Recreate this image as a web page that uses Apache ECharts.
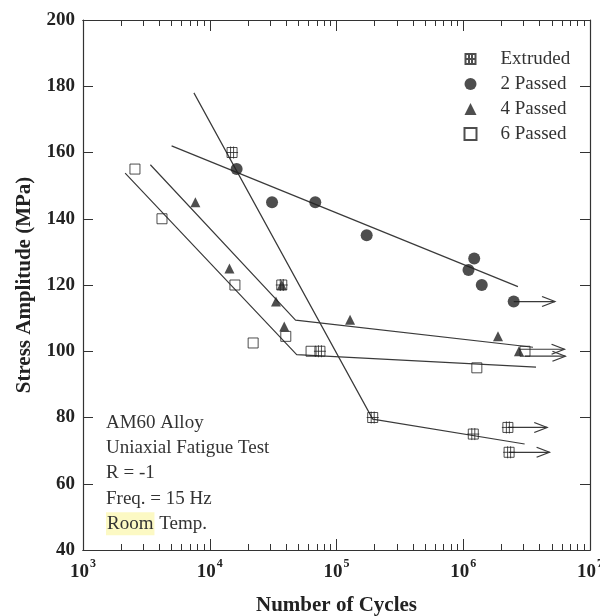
<!DOCTYPE html>
<html><head><meta charset="utf-8">
<script src="https://cdn.jsdelivr.net/npm/echarts@6/dist/echarts.min.js"></script>
<style>html,body{margin:0;padding:0;background:#fff}#c{width:600px;height:616px}</style>
</head><body><div id="c"></div>
<script>
// ---- data ----
const extrudedX = [1.5e4, 3.7e4, 7.4e4, 1.93e5, 1.2e6];
const extrudedY = [160, 120, 100, 80, 75];
const passed2X = [1.63e4, 3.1e4, 6.8e4, 1.73e5, 1.1e6, 1.22e6, 1.4e6];
const passed2Y = [155, 145, 145, 135, 124.5, 128, 120];
const passed4X = [7.7e3, 1.43e4, 3.33e4, 3.7e4, 3.87e4, 1.28e5, 1.88e6];
const passed4Y = [145, 125, 115, 120, 107.5, 109.5, 104.5];
const passed6X = [2.57e3, 4.2e3, 1.58e4, 2.2e4, 3.98e4, 6.3e4, 1.28e6];
const passed6Y = [155, 140, 120, 102.5, 104.5, 100, 95];

// run-outs (marker position, arrow level, arrow tip)
const extrudedRunX = [2.25e6, 2.3e6], extrudedRunY = [77, 69.5], extrudedRunArrowY = [77, 69.5], extrudedRunEnd = [4.6e6, 4.8e6];
const passed2RunX = [2.5e6], passed2RunY = [115], passed2RunArrowY = [115], passed2RunEnd = [5.3e6];
const passed4RunX = [2.75e6], passed4RunY = [100], passed4RunArrowY = [100.6], passed4RunEnd = [6.3e6];
const passed6RunX = [3.07e6], passed6RunY = [100], passed6RunArrowY = [98.5], passed6RunEnd = [6.4e6];

// fitted lines
const extrudedFitX = [7.5e3, 1.93e5, 3.05e6], extrudedFitY = [178, 79.5, 72];
const passed2FitX = [5.0e3, 2.7e6], passed2FitY = [162, 119.5];
const passed4FitX = [3.4e3, 4.75e4, 3.55e6], passed4FitY = [156.3, 109.4, 101.2];
const passed6FitX = [2.15e3, 4.85e4, 3.75e6], passed6FitY = [153.8, 99, 95.2];

const seriesNames = ['Extruded', '2 Passed', '4 Passed', '6 Passed'];
const xMajor = [1e3, 1e4, 1e5, 1e6, 1e7];
const xMinor = [];
[1e3, 1e4, 1e5, 1e6].forEach(d => { for (let k = 2; k <= 9; k++) xMinor.push(d * k); });
const noteLines = ['AM60 Alloy', 'Uniaxial Fatigue Test', 'R = -1', 'Freq. = 15 Hz'];
const noteLast = ['Room', ' Temp.'];

// ---- styles ----
const FONT = '"Liberation Serif", "Times New Roman", serif';
const INK = '#222';
const LINE = '#3a3a3a';
const crossSq = 'path://M1,1H11V11H1Z M4.5,0V12 M7.5,0V12 M0,6H12';
const openSq = 'path://M0,0H10V10H0Z';
const arrowPath = 'path://M0,0L12,5L0,10';

const zip = (xs, ys) => xs.map((x, i) => [x, ys[i]]);

function scatter(name, xs, ys, symbol, size, filled) {
  return {
    name, type: 'scatter', symbol, symbolSize: size,
    data: zip(xs, ys),
    itemStyle: filled ? { color: INK } : { color: 'none', borderColor: INK, borderWidth: 1 },
    silent: true, z: 5
  };
}
function fit(xs, ys) {
  return { type: 'line', data: zip(xs, ys), symbol: 'none', lineStyle: { color: LINE, width: 1.2 }, silent: true, z: 3 };
}
function runouts(xs, ay, ends) {
  return xs.map((x, i) => ({
    type: 'line', silent: true, z: 3, showSymbol: true, symbol: 'none',
    lineStyle: { color: LINE, width: 1.2 },
    itemStyle: { color: 'none', borderColor: LINE, borderWidth: 1.2 },
    data: [[x, ay[i]], { value: [ends[i], ay[i]], symbol: arrowPath, symbolSize: [13, 10], symbolOffset: ['-50%', 0] }]
  }));
}

const baseX = { type: 'log', logBase: 10, min: 1e3, max: 1e7, splitLine: { show: false },
  axisLine: { show: true, onZero: false, lineStyle: { color: '#333', width: 1.2 } } };
const baseY = { type: 'value', min: 40, max: 200, interval: 20, splitLine: { show: false },
  axisLine: { show: true, onZero: false, lineStyle: { color: '#333', width: 1.2 } } };

const option = {
  animation: false,
  backgroundColor: '#fff',
  grid: { left: 83, right: 10, top: 20, bottom: 66, containLabel: false, outerBoundsMode: 'none' },
  legend: {
    data: seriesNames, orient: 'vertical', left: 462, top: 49, padding: 0,
    itemWidth: 12, itemHeight: 12, itemGap: 5,
    textStyle: { fontFamily: FONT, fontSize: 19, color: '#333', lineHeight: 20, padding: [0, 0, 0, 19] },
    selectedMode: false
  },
  xAxis: [
    Object.assign({}, baseX, {
      position: 'bottom', name: 'Number of Cycles', nameLocation: 'middle', nameGap: 45,
      nameTextStyle: { fontFamily: FONT, fontSize: 21, fontWeight: 'bold', color: INK },
      axisTick: { show: true, inside: true, length: 11, customValues: xMajor, lineStyle: { color: '#333' } },
      axisLabel: {
        customValues: xMajor, margin: 8, color: INK, hideOverlap: false,
        formatter: v => '{b|10}{s|' + Math.round(Math.log10(v)) + '}',
        rich: {
          b: { fontFamily: FONT, fontSize: 19, fontWeight: 'bold', color: INK, lineHeight: 24, verticalAlign: 'bottom' },
          s: { fontFamily: FONT, fontSize: 12, fontWeight: 'bold', color: INK, lineHeight: 12, verticalAlign: 'top', padding: [0, 0, 0, 1] }
        }
      }
    }),
    Object.assign({}, baseX, { position: 'top',
      axisTick: { show: true, inside: true, length: 11, customValues: xMajor, lineStyle: { color: '#333' } },
      axisLabel: { show: false } }),
    Object.assign({}, baseX, { position: 'bottom',
      axisTick: { show: true, inside: true, length: 6, customValues: xMinor, lineStyle: { color: '#333' } },
      axisLabel: { show: false, customValues: xMinor } }),
    Object.assign({}, baseX, { position: 'top',
      axisTick: { show: true, inside: true, length: 6, customValues: xMinor, lineStyle: { color: '#333' } },
      axisLabel: { show: false, customValues: xMinor } })
  ],
  yAxis: [
    Object.assign({}, baseY, {
      position: 'left', name: 'Stress Amplitude (MPa)', nameLocation: 'middle', nameGap: 48,
      nameTextStyle: { fontFamily: FONT, fontSize: 21, fontWeight: 'bold', color: INK },
      axisTick: { show: true, inside: true, length: 10, lineStyle: { color: '#333' } },
      axisLabel: { fontFamily: FONT, fontSize: 19, fontWeight: 'bold', color: INK, margin: 8 }
    }),
    Object.assign({}, baseY, { position: 'right',
      axisTick: { show: true, inside: true, length: 10, lineStyle: { color: '#333' } },
      axisLabel: { show: false } })
  ],
  graphic: [{
    type: 'text', left: 106, top: 410, silent: true,
    style: {
      text: noteLines.join('\n') + '\n{hl|' + noteLast[0] + '}' + noteLast[1],
      font: '19px ' + FONT, fill: '#333', lineHeight: 25.3,
      rich: { hl: { backgroundColor: '#fcf9c4', fontFamily: FONT, fontSize: 19, color: '#333', padding: [2, 1, 2, 1] } }
    }
  }],
  series: [
    fit(extrudedFitX, extrudedFitY),
    fit(passed2FitX, passed2FitY),
    fit(passed4FitX, passed4FitY),
    fit(passed6FitX, passed6FitY),
    ...runouts(extrudedRunX, extrudedRunArrowY, extrudedRunEnd),
    ...runouts(passed2RunX, passed2RunArrowY, passed2RunEnd),
    ...runouts(passed4RunX, passed4RunArrowY, passed4RunEnd),
    ...runouts(passed6RunX, passed6RunArrowY, passed6RunEnd),
    scatter(seriesNames[0], extrudedX.concat(extrudedRunX), extrudedY.concat(extrudedRunY), crossSq, 12, false),
    scatter(seriesNames[1], passed2X.concat(passed2RunX), passed2Y.concat(passed2RunY), 'circle', 12, true),
    scatter(seriesNames[2], passed4X.concat(passed4RunX), passed4Y.concat(passed4RunY), 'triangle', 10, true),
    scatter(seriesNames[3], passed6X.concat(passed6RunX), passed6Y.concat(passed6RunY), openSq, 10, false)
  ]
};
const chart = echarts.init(document.getElementById('c'), null, { renderer: 'canvas' });
chart.setOption(option);
</script>
</body></html>
